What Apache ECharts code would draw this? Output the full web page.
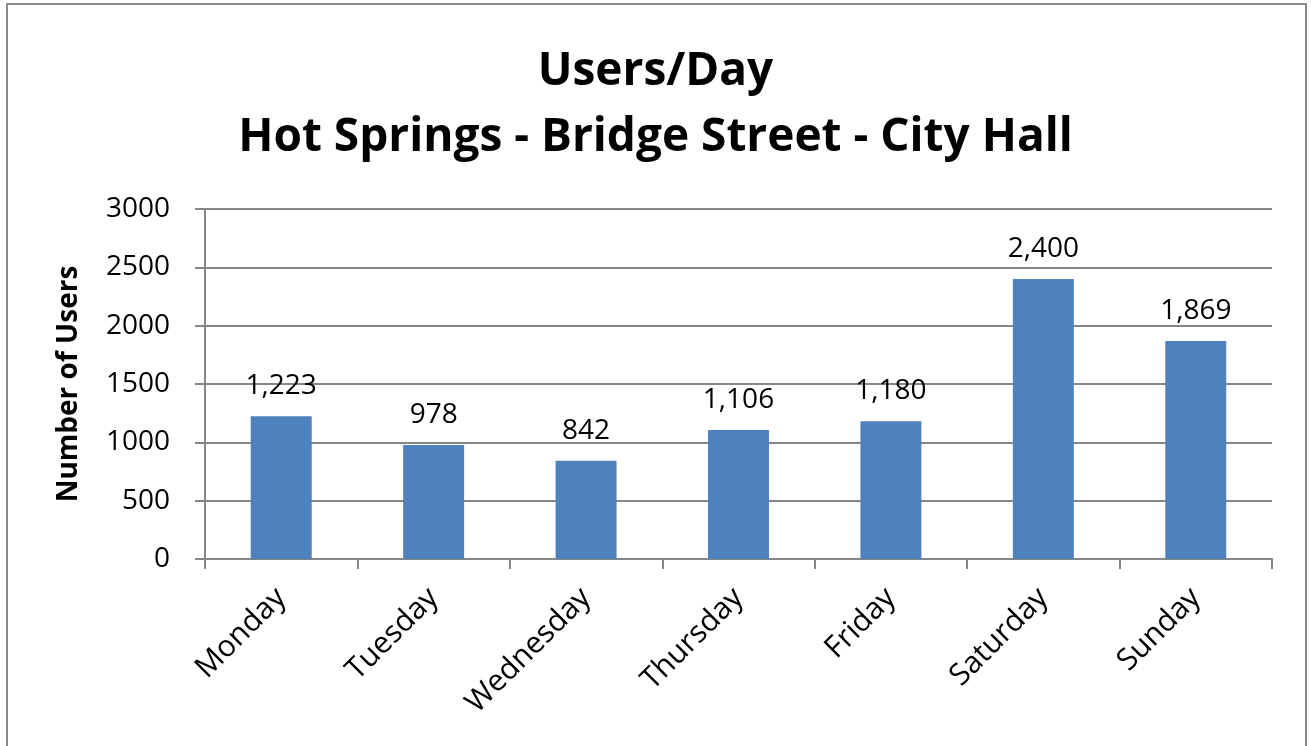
<!DOCTYPE html>
<html>
<head>
<meta charset="utf-8">
<script src="https://cdn.jsdelivr.net/npm/echarts@6/dist/echarts.min.js"></script>
<style>
  html, body { margin: 0; padding: 0; background: #fff; }
  #chart { width: 1311px; height: 746px; }
</style>
</head>
<body>
<div id="chart"></div>
<script>
  const days = ["Monday", "Tuesday", "Wednesday", "Thursday", "Friday", "Saturday", "Sunday"];
  const users = [1223, 978, 842, 1106, 1180, 2400, 1869];
  const yTicks = [0, 500, 1000, 1500, 2000, 2500, 3000];

  const font = "'Open Sans', 'Noto Sans', sans-serif";
  const chart = echarts.init(document.getElementById("chart"));

  chart.setOption({
    backgroundColor: "#fff",
    animation: false,
    graphic: [
      {
        type: "rect",
        shape: { x: 7, y: 4, width: 1299, height: 800 },
        style: { fill: "none", stroke: "#8a8a8a", lineWidth: 2 },
        z: 100
      }
    ],
    title: {
      text: "Users/Day\nHot Springs - Bridge Street - City Hall",
      left: "center",
      top: 34,
      textStyle: {
        fontFamily: font,
        fontWeight: "bold",
        fontSize: 46,
        lineHeight: 66,
        color: "#000"
      }
    },
    grid: { left: 205, right: 39, top: 209, bottom: 187 },
    xAxis: {
      type: "category",
      data: days,
      axisLine: { lineStyle: { color: "#868686", width: 2 } },
      axisTick: { show: true, length: 10, lineStyle: { color: "#868686", width: 2 } },
      axisLabel: {
        rotate: 45,
        margin: 34,
        fontFamily: font,
        fontSize: 30,
        color: "#000"
      }
    },
    yAxis: {
      type: "value",
      min: yTicks[0],
      max: yTicks[yTicks.length - 1],
      interval: 500,
      name: "Number of Users",
      nameLocation: "middle",
      nameGap: 122,
      nameTextStyle: {
        fontFamily: font,
        fontWeight: "bold",
        fontSize: 28,
        color: "#000"
      },
      axisLine: { show: true, lineStyle: { color: "#868686", width: 2 } },
      axisTick: { show: true, length: 10, lineStyle: { color: "#868686", width: 2 } },
      splitLine: { lineStyle: { color: "#868686", width: 2 } },
      axisLabel: {
        margin: 35,
        fontFamily: font,
        fontSize: 28,
        color: "#000",
        formatter: v => String(v)
      }
    },
    series: [
      {
        type: "bar",
        data: users,
        barWidth: "40%",
        itemStyle: { color: "#4f81bd" },
        label: {
          show: true,
          position: "top",
          distance: 16,
          fontFamily: font,
          fontSize: 28,
          color: "#000",
          formatter: p => p.value.toLocaleString("en-US")
        }
      }
    ]
  });
</script>
</body>
</html>
